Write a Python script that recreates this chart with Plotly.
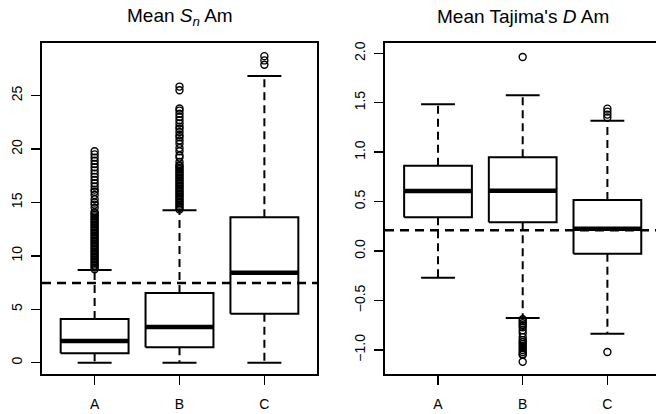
import plotly.graph_objects as go

# ---------------- data ----------------
groups = ["A", "B", "C"]

# Left panel: Mean S_n Am
sn_lower = [0.0, 0.0, 0.0]
sn_q1 = [0.88, 1.44, 4.59]
sn_median = [2.03, 3.34, 8.43]
sn_q3 = [4.09, 6.52, 13.61]
sn_upper = [8.68, 14.27, 26.84]
sn_out_A = [8.75, 8.9, 9.05, 9.2, 9.35, 9.5, 9.65, 9.8, 9.95, 10.1, 10.25, 10.4,
            10.55, 10.7, 10.85, 11.0, 11.15, 11.3, 11.45, 11.6, 11.75, 11.9, 12.05,
            12.2, 12.35, 12.5, 12.65, 12.8, 12.95, 13.1, 13.25, 13.4, 13.55, 13.7,
            13.85, 14.0, 14.1, 14.5, 14.8, 15.0, 15.3, 15.7, 16.0, 16.2, 16.5, 16.8,
            17.1, 17.4, 17.7, 18.0, 18.3, 18.6, 18.9, 19.2, 19.5, 19.8]
sn_out_B = [14.35, 14.5, 14.65, 14.8, 14.95, 15.1, 15.25, 15.4, 15.55, 15.7, 15.85,
            16.0, 16.15, 16.3, 16.45, 16.6, 16.75, 16.9, 17.05, 17.2, 17.35, 17.5,
            17.65, 17.8, 17.95, 18.1, 18.25, 18.4, 18.5, 18.8, 19.2, 19.4, 19.8,
            20.1, 20.5, 20.8, 21.1, 21.3, 21.6, 21.9, 22.1, 22.4, 22.7, 23.0, 23.3,
            23.6, 23.8, 25.5, 25.85]
sn_out_C = [27.9, 28.3, 28.7]
sn_ref = 7.46
sn_ticks = [0, 5, 10, 15, 20, 25]

# Right panel: Mean Tajima's D Am
td_lower = [-0.269, -0.677, -0.835]
td_q1 = [0.342, 0.291, -0.026]
td_median = [0.608, 0.611, 0.226]
td_q3 = [0.863, 0.948, 0.517]
td_upper = [1.484, 1.575, 1.318]
td_out_A = []
td_out_B = [1.963, -0.69, -0.71, -0.73, -0.75, -0.77, -0.80, -0.83, -0.87, -0.90,
            -0.92, -0.94, -0.96, -0.98, -1.00, -1.02, -1.04, -1.05, -1.12]
td_out_C = [1.35, 1.38, 1.41, 1.44, -1.02]
td_ref = 0.21
td_ticks = [-1.0, -0.5, 0.0, 0.5, 1.0, 1.5, 2.0]

FONT = "Liberation Sans, Arial, Helvetica, sans-serif"
BOX_HW = 0.4
CAP_HW = 0.2

fig = go.Figure()


def add_boxes(xref, yref, lower, q1, med, q3, upper, outs):
    pos = list(range(1, len(groups) + 1))
    bx, by, mx, my, wx, wy, cx, cy, ox, oy = [], [], [], [], [], [], [], [], [], []
    for i, p in enumerate(pos):
        bx += [p - BOX_HW, p + BOX_HW, p + BOX_HW, p - BOX_HW, p - BOX_HW, None]
        by += [q1[i], q1[i], q3[i], q3[i], q1[i], None]
        mx += [p - BOX_HW, p + BOX_HW, None]
        my += [med[i], med[i], None]
        wx += [p, p, None, p, p, None]
        wy += [q3[i], upper[i], None, q1[i], lower[i], None]
        cx += [p - CAP_HW, p + CAP_HW, None, p - CAP_HW, p + CAP_HW, None]
        cy += [upper[i], upper[i], None, lower[i], lower[i], None]
        ox += [p] * len(outs[i])
        oy += list(outs[i])
    common = dict(xaxis=xref, yaxis=yref, showlegend=False, hoverinfo="skip")
    fig.add_trace(go.Scatter(x=wx, y=wy, mode="lines",
                             line=dict(color="black", width=2, dash="8px,5px"), **common))
    fig.add_trace(go.Scatter(x=cx, y=cy, mode="lines",
                             line=dict(color="black", width=2), **common))
    fig.add_trace(go.Scatter(x=bx, y=by, mode="lines", fill="toself", fillcolor="white",
                             line=dict(color="black", width=2), **common))
    fig.add_trace(go.Scatter(x=mx, y=my, mode="lines",
                             line=dict(color="black", width=4.5), **common))
    fig.add_trace(go.Scatter(x=ox, y=oy, mode="markers",
                             marker=dict(symbol="circle-open", size=7, color="black",
                                         line=dict(width=1.4, color="black")), **common))


add_boxes("x", "y", sn_lower, sn_q1, sn_median, sn_q3, sn_upper,
          [sn_out_A, sn_out_B, sn_out_C])
add_boxes("x2", "y2", td_lower, td_q1, td_median, td_q3, td_upper,
          [td_out_A, td_out_B, td_out_C])

# reference lines
fig.add_shape(type="line", xref="x domain", yref="y", x0=0, x1=1, y0=sn_ref, y1=sn_ref,
              line=dict(color="black", width=2.5, dash="9px,6px"), layer="above")
fig.add_shape(type="line", xref="x2 domain", yref="y2", x0=0, x1=1, y0=td_ref, y1=td_ref,
              line=dict(color="black", width=2.5, dash="9px,6px"), layer="above")

axis_common = dict(showgrid=False, zeroline=False, showline=True, linecolor="black",
                   linewidth=2, ticks="outside", ticklen=9, tickwidth=1.5, automargin=False,
                   tickcolor="black", tickfont=dict(family=FONT, size=14, color="black"))

L, R, T, B = 42, 0, 43, 40
W, H = 656, 414
pw = W - L - R
ph = H - T - B
left_dom = [0, (317 - L) / pw]
right_dom = [(385 - L) / pw, 1]

fig.update_layout(
    width=W, height=H, autosize=False,
    margin=dict(l=L, r=R, t=T, b=B, pad=0, autoexpand=False),
    paper_bgcolor="white", plot_bgcolor="white",
    font=dict(family=FONT, color="black"),
    xaxis=dict(domain=left_dom, range=[0.38, 3.62], tickvals=[1, 2, 3], ticktext=groups,
               mirror=True, ticklabelstandoff=7, anchor="y", **axis_common),
    yaxis=dict(domain=[0, 1], range=[-1.06, 29.93], tickvals=sn_ticks,
               tickangle=-90, mirror=True, ticklabelstandoff=3, anchor="x", **axis_common),
    xaxis2=dict(domain=right_dom, range=[0.374, 3.574], tickvals=[1, 2, 3], ticktext=groups,
                mirror=True, ticklabelstandoff=7, anchor="y2", **axis_common),
    yaxis2=dict(domain=[0, 1], range=[-1.243, 2.104], tickvals=td_ticks,
                tickformat=".1f", tickangle=-90, mirror=False, ticklabelstandoff=3,
                anchor="x2", **axis_common),
)

fig.add_annotation(text="Mean <i>S<sub>n</sub></i> Am", xref="paper", yref="paper",
                   x=(179.5 - L) / pw, y=1 + (T - 17) / ph, showarrow=False,
                   xanchor="center", yanchor="middle",
                   font=dict(family=FONT, size=19, color="black"))
fig.add_annotation(text="Mean Tajima's <i>D</i> Am", xref="paper", yref="paper",
                   x=(523 - L) / pw, y=1 + (T - 17) / ph, showarrow=False,
                   xanchor="center", yanchor="middle",
                   font=dict(family=FONT, size=19, color="black"))

fig.write_html("out.html", config={"displayModeBar": False, "staticPlot": True},
               post_script="document.body.style.margin='0px';"
                           "document.body.style.overflow='hidden';")
